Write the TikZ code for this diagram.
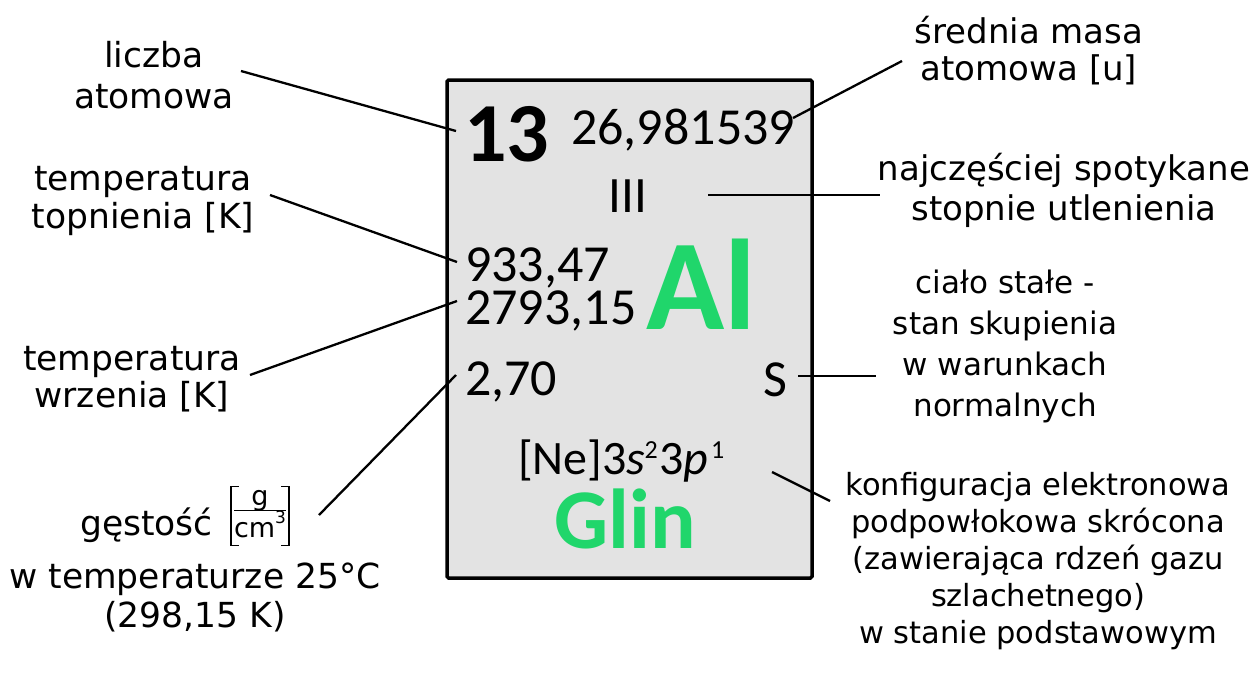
\documentclass[tikz,border=0pt]{standalone}
\usepackage{fontspec}
\setmainfont{DejaVu Sans}
\newfontfamily\cellfont{Carlito}
\definecolor{elgreen}{HTML}{20D66B}
\definecolor{cellgray}{HTML}{E3E3E3}
% label text: given size and line pitch
\newcommand\labfont[2]{\fontsize{#1}{#2}\selectfont}
% centred stack of lines whose base is the first line's baseline
\newcommand\stacklines[1]{\begin{tabular}[t]{@{}c@{}}#1\end{tabular}}
\newcommand\cellsize[1]{\fontsize{#1}{#1}\selectfont}
\newcommand\smallsup[1]{\raisebox{16pt}{\cellsize{26}#1}}

\tikzset{
  lab/.style={inner sep=0pt, anchor=base, font={\labfont{34.5}{41}}},
  cell/.style={inner sep=0pt, anchor=base west, font=\cellfont},
  lead/.style={line width=2.3pt},
  bracket/.style={line width=1.6pt},
  cellbox/.style={draw=black, line width=3.5pt, fill=cellgray, rounded corners=1.5pt}
}

\begin{document}
\begin{tikzpicture}[x=1pt,y=-1pt]
  \useasboundingbox (0,0) rectangle (1253,673);
  \fill[white] (0,0) rectangle (1253,673);

  % the element cell
  \draw[cellbox] (447,80) rectangle (812,578);

  % cell contents
  \node[cell, font=\cellfont\bfseries\cellsize{84}] (num) at (464,161) {13};
  \node[cell, font=\cellfont\cellsize{52}] (mass) at (571,144) {26,981539};
  \node[cell, anchor=base, font=\cellfont\cellsize{51}] (ox) at (628,212) {III};
  \node[cell, font=\cellfont\cellsize{52}] (melt) at (465,281) {933,47};
  \node[cell, font=\cellfont\cellsize{52}] (boil) at (465,324) {2793,15};
  \node[cell, font=\cellfont\bfseries\cellsize{129}, text=elgreen] (sym) at (646,329) {Al};
  \node[cell, font=\cellfont\cellsize{52}] (dens) at (465,395) {2,70};
  \node[cell, font=\cellfont\cellsize{52}] (state) at (763,396) {S};
  \node[cell, font=\cellfont\cellsize{48}] (conf) at (518,474)
    {[Ne]3\textit{s}\kern-0.02em\smallsup{2}\kern0.04em 3\textit{p}\kern0.05em\smallsup{1}};
  \node[cell, font=\cellfont\bfseries\cellsize{85}, text=elgreen] (name) at (554,548) {Glin};

  % descriptions
  \node[lab] (lnum) at (154,67) {\stacklines{liczba\\atomowa}};
  \node[lab, font={\labfont{34}{37}}] (lmass) at (1029,43) {\stacklines{średnia masa\\atomowa [u]}};
  \node[lab, font={\labfont{34}{40}}] (lox) at (1064,180) {\stacklines{najczęściej spotykane\\stopnie utlenienia}};
  \node[lab, font={\labfont{34.5}{38}}] (lmelt) at (143,190) {\stacklines{temperatura\\topnienia [K]}};
  \node[lab, font={\labfont{31}{41}}] (lstate) at (1005,293) {\stacklines{ciało stałe -\\stan skupienia\\w warunkach\\normalnych}};
  \node[lab, font={\labfont{34.5}{37}}] (lboil) at (132,370) {\stacklines{temperatura\\wrzenia [K]}};
  \node[lab, anchor=base west] (ldens) at (80,535) {gęstość};
  % density unit: g over cm^3 between square brackets
  \node[inner sep=0pt, font=\cellsize{27}] (unit) at (260,516)
    {\setlength{\arrayrulewidth}{1.4pt}\begin{tabular}{@{}c@{}}g\\[-4pt]\hline\rule{0pt}{23pt}cm\raisebox{0.5em}{\cellsize{17}3}\end{tabular}};
  \draw[bracket] ([xshift=5pt]unit.north west) -- ++(-8pt,0) |- ([xshift=5pt]unit.south west);
  \draw[bracket] ([xshift=-5pt]unit.north east) -- ++(8pt,0) |- ([xshift=-5pt]unit.south east);
  \node[lab, font={\labfont{34.5}{39}}] (ltemp) at (195,588) {\stacklines{w temperaturze 25°C\\(298,15 K)}};
  \node[lab, font={\labfont{30.5}{37}}] (lconf) at (1038,495)
    {\stacklines{konfiguracja elektronowa\\podpowłokowa skrócona\\(zawierająca rdzeń gazu\\szlachetnego)\\w stanie podstawowym}};

  % leader line end points
  \coordinate (a1) at (241,71);  \coordinate (a2) at (456,131);
  \coordinate (b1) at (793,118); \coordinate (b2) at (902,61);
  \coordinate (c1) at (708,195); \coordinate (c2) at (880,195);
  \coordinate (d1) at (270,195); \coordinate (d2) at (457,262);
  \coordinate (e1) at (250,375); \coordinate (e2) at (457,301);
  \coordinate (f1) at (319,515); \coordinate (f2) at (456,375);
  \coordinate (g1) at (798,376); \coordinate (g2) at (876,376);
  \coordinate (h1) at (772,472); \coordinate (h2) at (830,501);

  % leader lines
  \draw[lead] (a1) -- (a2);
  \draw[lead] (b1) -- (b2);
  \draw[lead] (c1) -- (c2);
  \draw[lead] (d1) -- (d2);
  \draw[lead] (e1) -- (e2);
  \draw[lead] (f1) -- (f2);
  \draw[lead] (g1) -- (g2);
  \draw[lead] (h1) -- (h2);
\end{tikzpicture}
\end{document}
